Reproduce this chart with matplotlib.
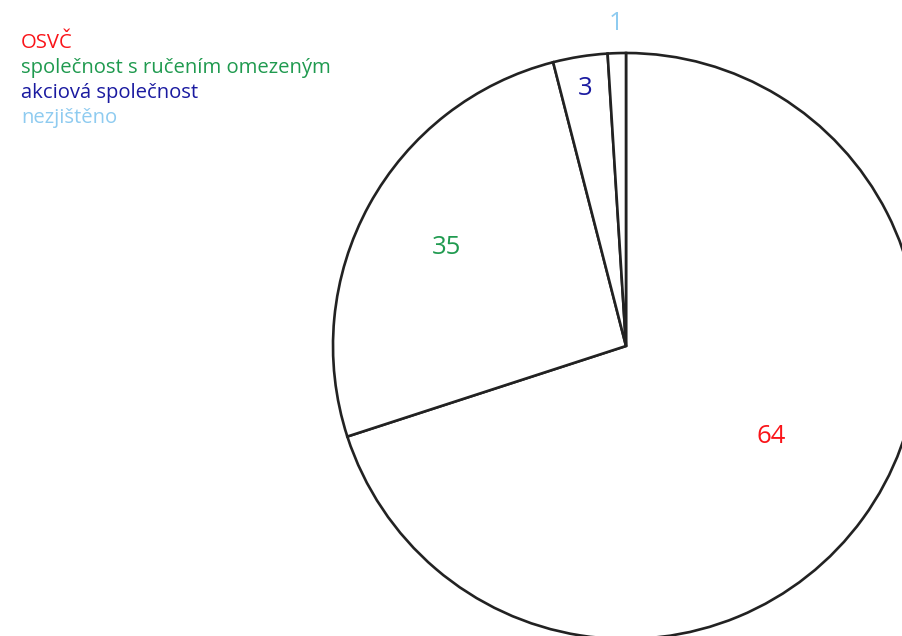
import numpy as np
import matplotlib
matplotlib.use("Agg")
import matplotlib.pyplot as plt

# Daten
kategorie = ["OSVČ", "společnost s ručením omezeným", "akciová společnost", "nezjištěno"]
podil = [70, 26, 3, 1]          # velikost výsečí (%)
pocet = [64, 35, 3, 1]          # popisky výsečí
barvy = ["#fa1419", "#1f9a4f", "#1a1aa0", "#8ecbf0"]

plt.rcParams['font.family'] = ['Open Sans', 'DejaVu Sans']

W, H = 903, 636
fig = plt.figure(figsize=(W / 100, H / 100), dpi=100)
ax = fig.add_axes([0, 0, 1, 1])

cx, cy, r = 626, H - 346, 293
wedges, _ = ax.pie(podil, center=(cx, cy), radius=r, startangle=90, counterclock=False,
                   colors=["white"] * 4, frame=True,
                   wedgeprops=dict(edgecolor="#222222", linewidth=1.9))
ax.set_xlim(0, W)
ax.set_ylim(0, H)
ax.set_aspect('equal')
ax.axis('off')

# popisky (vzdalenost od stredu, posun uhlu)
vzdal = [0.585, 0.70, 0.89, 1.10]
posun = [4, 0, 0, 0]
for w, n, c, d, p in zip(wedges, pocet, barvy, vzdal, posun):
    a = np.deg2rad((w.theta1 + w.theta2) / 2 + p)
    ax.text(cx + d * r * np.cos(a), cy + d * r * np.sin(a), str(n), color=c,
            fontsize=18.5, ha='center', va='center')

# legenda
for i, (k, c) in enumerate(zip(kategorie, barvy)):
    ax.text(21, H - 43 - 25 * i, k, color=c, fontsize=14.6, ha='left', va='center')

fig.savefig("out.png", dpi=100)
